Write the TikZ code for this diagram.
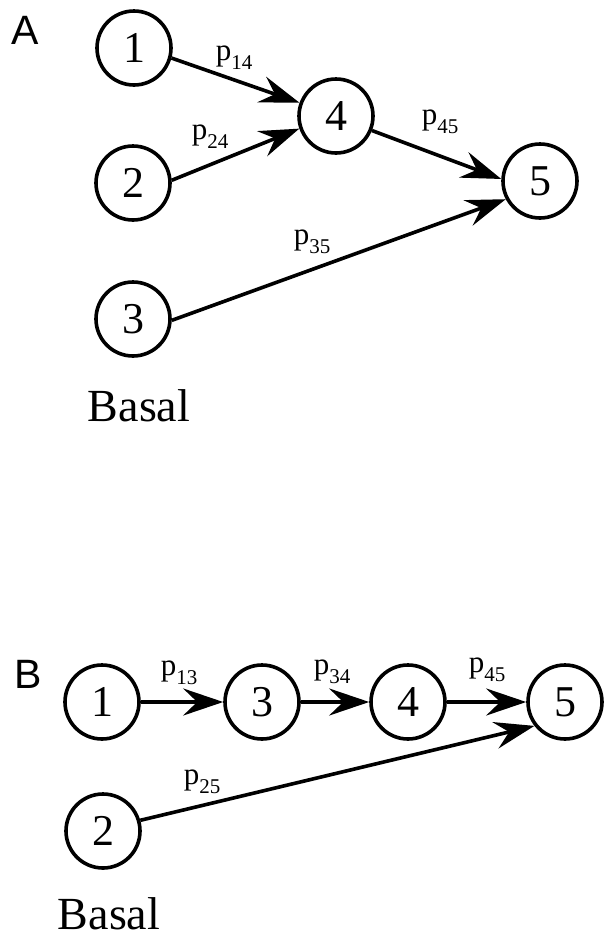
\documentclass[tikz,border=0pt]{standalone}
\usepackage{fontspec}
\setmainfont{Liberation Serif}
\newfontfamily\panelfont{Liberation Sans}
\usetikzlibrary{arrows.meta}
\newcommand{\prob}[1]{p\raisebox{-0.3em}{\fontsize{21}{21}\selectfont #1}}

\begin{document}
\begin{tikzpicture}[x=1pt,y=-1pt,
    state/.style={circle,draw,line width=3.6pt,minimum size=74pt,inner sep=0pt,font=\fontsize{44}{44}\selectfont},
    trans/.style={line width=3.6pt,-{Stealth[length=40pt,width=27pt,inset=14pt]}},
    rate/.style={inner sep=0pt,font=\fontsize{31}{31}\selectfont},
    panel/.style={inner sep=0pt,font=\panelfont\fontsize{41}{41}\selectfont},
    basal/.style={inner sep=0pt,font=\fontsize{46}{46}\selectfont}]
  \useasboundingbox (0,0) rectangle (603,940);
  % panel A
  \node[panel] (labA) at (25,30) {A};
  \node[state] (a1) at (134,48) {1};
  \node[state] (a2) at (133,183) {2};
  \node[state] (a3) at (133,319) {3};
  \node[state] (a4) at (336,116) {4};
  \node[state] (a5) at (540,181) {5};
  \node[basal] (basA) at (139,406) {Basal};
  \draw[trans] (a1.-15) -- (a4.160);
  \draw[trans] (a2.4) -- (a4.-161);
  \draw[trans] (a4.-22) -- (a5.177);
  \draw[trans] (a3.-2) -- (a5.-152);
  \node[rate] (p14) at (234,58) {\prob{14}};
  \node[rate] (p24) at (210,137) {\prob{24}};
  \node[rate] (p45a) at (440,122) {\prob{45}};
  \node[rate] (p35) at (312,242) {\prob{35}};
  % panel B
  \node[panel] (labB) at (28,674) {B};
  \node[state] (b1) at (102,702) {1};
  \node[state] (b3) at (262,702) {3};
  \node[state] (b4) at (408,702) {4};
  \node[state] (b5) at (565,702) {5};
  \node[state] (b2) at (103,831) {2};
  \node[basal] (basB) at (109,914) {Basal};
  \draw[trans] (b1) -- (b3);
  \draw[trans] (b3) -- (b4);
  \draw[trans] (b4) -- (b5);
  \draw[trans] (b2.16) -- (b5.-142);
  \node[rate] (p13) at (179,673) {\prob{13}};
  \node[rate] (p34) at (332,672) {\prob{34}};
  \node[rate] (p45b) at (487,670) {\prob{45}};
  \node[rate] (p25) at (202,782) {\prob{25}};
\end{tikzpicture}
\end{document}
